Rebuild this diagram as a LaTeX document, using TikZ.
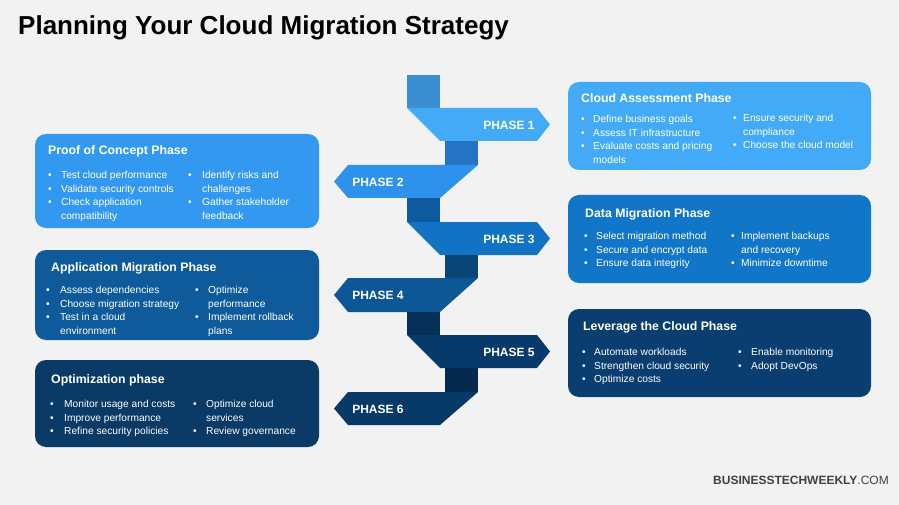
\documentclass[tikz,border=0pt]{standalone}
\usepackage{fontspec}
\setmainfont{Liberation Sans}
\newcommand{\bl}{\textbullet}
\begin{document}
\begin{tikzpicture}[x=1pt,y=-1pt,
  card/.style={rounded corners=11pt},
  ttl/.style={anchor=west,text=white,font=\bfseries\fontsize{12.3}{14}\selectfont,inner sep=0},
  col/.style={anchor=north west,text=white,inner sep=0,yshift=-3pt,font=\fontsize{10.2}{13.5}\selectfont},
  plab/.style={text=white,font=\bfseries\fontsize{12}{14}\selectfont,inner sep=0}]
\definecolor{bg}{HTML}{F2F2F2}
\definecolor{c1}{HTML}{42AAF6}\definecolor{s1}{HTML}{3A8ED2}
\definecolor{c2}{HTML}{2E92EC}\definecolor{s2}{HTML}{2573C3}
\definecolor{c3}{HTML}{1273C4}\definecolor{s3}{HTML}{0E5A9E}
\definecolor{c4}{HTML}{0D5796}\definecolor{s4}{HTML}{0A4578}
\definecolor{c5}{HTML}{07396A}\definecolor{s5}{HTML}{062F58}
\definecolor{c6}{HTML}{083A67}\definecolor{s6}{HTML}{052A4E}
\definecolor{b1}{HTML}{42AAF6}\definecolor{b2}{HTML}{3399F0}
\definecolor{b3}{HTML}{1276C8}\definecolor{b4}{HTML}{0E5A9A}
\definecolor{b5}{HTML}{0A3D70}\definecolor{b6}{HTML}{0A3A66}
\fill[bg] (0,0) rectangle (899,505);
\useasboundingbox (0,0) rectangle (899,505);
\node[anchor=west,inner sep=0,font=\bfseries\fontsize{26}{30}\selectfont] (title) at (18,28) {Planning Your Cloud Migration Strategy};
% spine
\fill[s1] (407,75) rectangle (440,108);
\fill[c1] (407,108) -- (537,108) -- (550,124.5) -- (537,141) -- (440,141) -- cycle;
\fill[s2] (445,141) rectangle (478,165);
\fill[c2] (348,165) -- (478,165) -- (440,198) -- (348,198) -- (334,181.5) -- cycle;
\fill[s3] (407,198) rectangle (440,222);
\fill[c3] (407,222) -- (537,222) -- (550,238.5) -- (537,255) -- (440,255) -- cycle;
\fill[s4] (445,255) rectangle (478,278);
\fill[c4] (348,278) -- (478,278) -- (440,312) -- (348,312) -- (334,295) -- cycle;
\fill[s5] (407,312) rectangle (440,335);
\fill[c5] (407,335) -- (537,335) -- (550,351.5) -- (537,368) -- (440,368) -- cycle;
\fill[s6] (445,368) rectangle (478,392);
\fill[c6] (348,392) -- (478,392) -- (440,425) -- (348,425) -- (334,408.5) -- cycle;
\node[plab] (p1) at (509,125) {PHASE 1};
\node[plab] (p2) at (378,182) {PHASE 2};
\node[plab] (p3) at (509,239) {PHASE 3};
\node[plab] (p4) at (378,295) {PHASE 4};
\node[plab] (p5) at (509,352) {PHASE 5};
\node[plab] (p6) at (378,409) {PHASE 6};
% cards
\fill[b1,card] (568,82) rectangle (871,170);
\node[ttl] (t1) at (581,98) {Cloud Assessment Phase};
\node[col] (a1) at (581,110) {\begin{tabular}{@{}p{12pt}@{}l@{}}\bl&Define business goals\\\bl&Assess IT infrastructure\\\bl&Evaluate costs and pricing\\&models\end{tabular}};
\node[col] (a2) at (733,109) {\begin{tabular}{@{}p{10pt}@{}l@{}}\bl&Ensure security and\\&compliance\\\bl&Choose the cloud model\end{tabular}};
\fill[b2,card] (35,134) rectangle (319,228);
\node[ttl] (t2) at (48,151) {Proof of Concept Phase};
\node[col] (b1n) at (48,166) {\begin{tabular}{@{}p{13pt}@{}l@{}}\bl&Test cloud performance\\\bl&Validate security controls\\\bl&Check application\\&compatibility\end{tabular}};
\node[col] (b2n) at (188,166) {\begin{tabular}{@{}p{14pt}@{}l@{}}\bl&Identify risks and\\&challenges\\\bl&Gather stakeholder\\&feedback\end{tabular}};
\fill[b3,card] (568,195) rectangle (871,283);
\node[ttl] (t3) at (585,214) {Data Migration Phase};
\node[col] (d1) at (584,227) {\begin{tabular}{@{}p{12pt}@{}l@{}}\bl&Select migration method\\\bl&Secure and encrypt data\\\bl&Ensure data integrity\end{tabular}};
\node[col] (d2) at (731,227) {\begin{tabular}{@{}p{10pt}@{}l@{}}\bl&Implement backups\\&and recovery\\\bl&Minimize downtime\end{tabular}};
\fill[b4,card] (35,250) rectangle (319,340);
\node[ttl] (t4) at (51,268) {Application Migration Phase};
\node[col] (e1) at (46,281) {\begin{tabular}{@{}p{14pt}@{}l@{}}\bl&Assess dependencies\\\bl&Choose migration strategy\\\bl&Test in a cloud\\&environment\end{tabular}};
\node[col] (e2) at (195,281) {\begin{tabular}{@{}p{13pt}@{}l@{}}\bl&Optimize\\&performance\\\bl&Implement rollback\\&plans\end{tabular}};
\fill[b5,card] (568,309) rectangle (871,397);
\node[ttl] (t5) at (583,327) {Leverage the Cloud Phase};
\node[col] (f1) at (582,343) {\begin{tabular}{@{}p{12pt}@{}l@{}}\bl&Automate workloads\\\bl&Strengthen cloud security\\\bl&Optimize costs\end{tabular}};
\node[col] (f2) at (738,343) {\begin{tabular}{@{}p{13pt}@{}l@{}}\bl&Enable monitoring\\\bl&Adopt DevOps\end{tabular}};
\fill[b6,card] (35,360) rectangle (319,447);
\node[ttl] (t6) at (51,380) {Optimization phase};
\node[col] (g1) at (50,395) {\begin{tabular}{@{}p{14pt}@{}l@{}}\bl&Monitor usage and costs\\\bl&Improve performance\\\bl&Refine security policies\end{tabular}};
\node[col] (g2) at (193,395) {\begin{tabular}{@{}p{13pt}@{}l@{}}\bl&Optimize cloud\\&services\\\bl&Review governance\end{tabular}};
\node[anchor=east,inner sep=0,text=black!75,font=\fontsize{12}{14}\selectfont] (wm) at (889,480) {\textbf{BUSINESSTECHWEEKLY}.COM};
\end{tikzpicture}
\end{document}
